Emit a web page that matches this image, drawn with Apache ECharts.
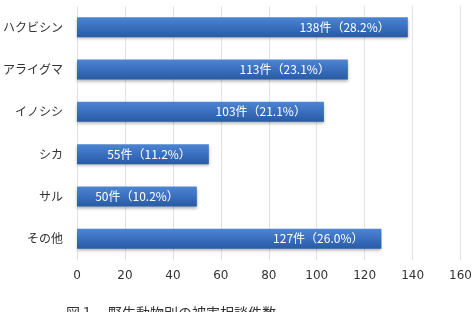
<!DOCTYPE html>
<html>
<head>
<meta charset="utf-8">
<script src="https://cdn.jsdelivr.net/npm/echarts@6/dist/echarts.min.js"></script>
<style>
  html, body { margin: 0; padding: 0; background: #fff; }
  #chart { width: 475px; height: 312px; }
</style>
</head>
<body>
<div id="chart"></div>
<script>
// 動物別の件数と割合
const categories = ['ハクビシン', 'アライグマ', 'イノシシ', 'シカ', 'サル', 'その他'];
const counts = [138, 113, 103, 55, 50, 127];
const percents = ['28.2', '23.1', '21.1', '11.2', '10.2', '26.0'];
const xTicks = [0, 20, 40, 60, 80, 100, 120, 140, 160];
const caption = '図１　野生動物別の被害相談件数';

const fontJP = '"Noto Sans CJK JP", "DejaVu Sans", sans-serif';

let chart = echarts.init(document.getElementById('chart'));
chart.setOption({
  animation: false,
  textStyle: { fontFamily: fontJP },
  grid: { left: 77, right: 14, top: 6, bottom: 52, containLabel: false },
  xAxis: {
    type: 'value',
    min: xTicks[0],
    max: xTicks[xTicks.length - 1],
    interval: 20,
    axisLine: { show: false },
    axisTick: { show: false },
    axisLabel: { color: '#333', fontSize: 12, margin: 10, fontFamily: 'Verdana, "DejaVu Sans", sans-serif' },
    splitLine: { show: true, lineStyle: { color: '#dfe4ea', width: 1 } }
  },
  yAxis: {
    type: 'category',
    data: categories,
    inverse: true,
    axisLine: { show: false },
    axisTick: { show: false },
    axisLabel: { color: '#333', fontSize: 12, margin: 14 }
  },
  series: [{
    type: 'bar',
    data: counts,
    barWidth: 20,
    itemStyle: {
      color: new echarts.graphic.LinearGradient(0, 0, 0, 1, [
        { offset: 0, color: '#4d85d2' },
        { offset: 0.5, color: '#3a6fbf' },
        { offset: 1, color: '#285ba3' }
      ]),
      shadowColor: 'rgba(0,0,0,0.3)',
      shadowBlur: 3,
      shadowOffsetY: 2
    },
    label: {
      show: true,
      position: 'insideRight',
      distance: 18,
      color: '#fff',
      fontSize: 12,
      fontFamily: fontJP,
      formatter: function (p) {
        return p.value + '件（' + percents[p.dataIndex] + '%）';
      }
    }
  }],
  graphic: [{
    type: 'text',
    left: 66,
    top: 306,
    style: { text: caption, fill: '#333', font: '14px ' + fontJP }
  }]
});
</script>
</body>
</html>
